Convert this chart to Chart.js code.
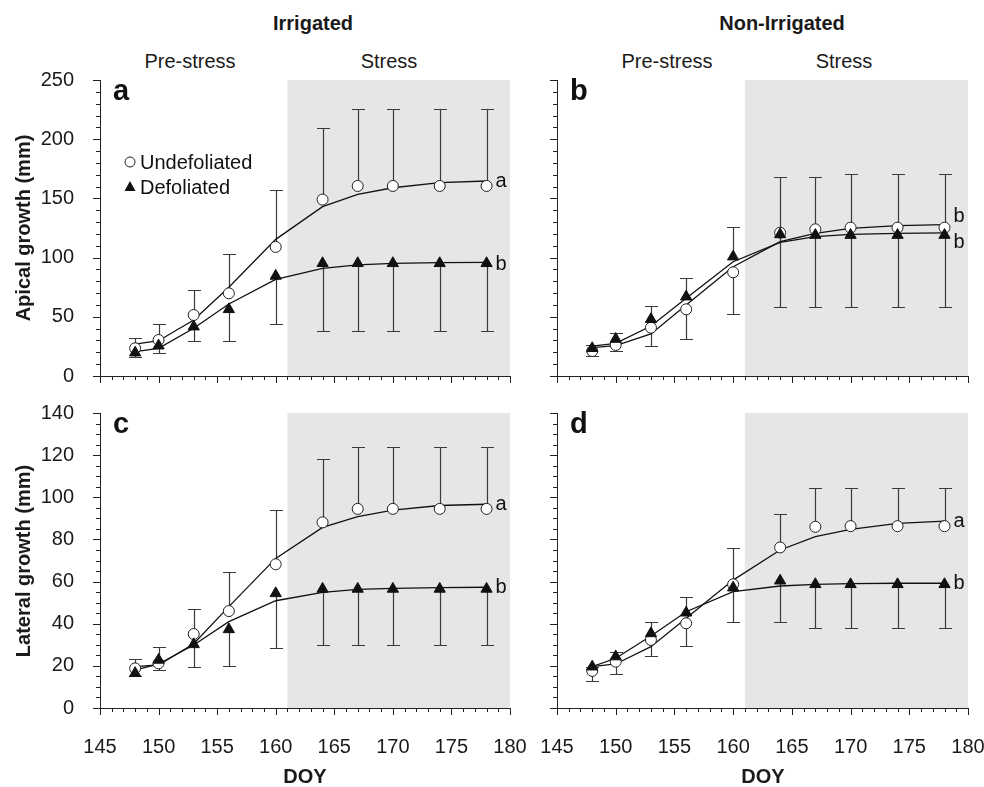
<!DOCTYPE html>
<html>
<head>
<meta charset="utf-8">
<script src="https://cdn.jsdelivr.net/npm/chart.js@4.4.1/dist/chart.umd.min.js"></script>
<style>
    body {
        margin: 0;
        width: 984px;
        height: 787px;
        overflow: hidden;
        background: #fff;
        position: relative;
        font-family: 'Liberation Sans', Arial, sans-serif;
        color: #1a1a1a;
    }
    canvas { position: absolute; }
    .lbl {
        position: absolute;
        font-size: 20px;
        line-height: 1;
        white-space: nowrap;
        transform: translate(-50%, -50%);
    }
    .bold { font-weight: bold; }
    .ytitle { transform: translate(-50%, -50%) rotate(-90deg); }
</style>
</head>
<body>
<div class="lbl bold" style="left:313px; top:23px">Irrigated</div>
<div class="lbl bold" style="left:782px; top:23px">Non-Irrigated</div>
<div class="lbl" style="left:190px; top:61px">Pre-stress</div>
<div class="lbl" style="left:389px; top:61px">Stress</div>
<div class="lbl" style="left:667px; top:61px">Pre-stress</div>
<div class="lbl" style="left:844px; top:61px">Stress</div>

<canvas id="chartA" width="530" height="330" style="left:0; top:70px"></canvas>
<canvas id="chartB" width="527" height="330" style="left:457px; top:70px"></canvas>
<canvas id="chartC" width="530" height="387" style="left:0; top:400px"></canvas>
<canvas id="chartD" width="527" height="387" style="left:457px; top:400px"></canvas>

<div class="lbl bold ytitle" style="left:23px; top:228px">Apical growth (mm)</div>
<div class="lbl bold ytitle" style="left:23px; top:561px">Lateral growth (mm)</div>
<div class="lbl bold" style="left:305px; top:776px">DOY</div>
<div class="lbl bold" style="left:763px; top:776px">DOY</div>

<script>
// Sampling days (DOY)
const days = [148, 150, 153, 156, 160, 164, 167, 170, 174, 178];
const stressStart = 161;

// Panel a - apical growth, irrigated
const apIrrUndef    = [23.4, 30.4, 51.5, 69.8, 109, 149, 160.5, 160.5, 160.5, 160.5];
const apIrrUndefErr = [31.8, 43.6, 72.6, 103, 156.8, 209.5, 225.2, 225.2, 225.2, 225.2];
const apIrrDef      = [19.7, 25.6, 41.7, 56.3, 84.5, 95.2, 95.2, 95.2, 95.2, 95.2];
const apIrrDefErr   = [16, 19.7, 29.6, 29.8, 43.9, 38.3, 38.3, 38.3, 38.3, 38.3];
const apIrrUndefFit = [27, 29.8, 47.3, 74.9, 115.4, 143, 153.4, 159, 163.3, 164.7];
const apIrrDefFit   = [20.6, 23.4, 40.3, 60.8, 81.6, 90.9, 93.8, 95.2, 95.7, 96];

// Panel b - apical growth, non-irrigated
const apNonUndef    = [21.1, 26.2, 40.8, 56.3, 87.6, 121, 123.9, 125.3, 125.3, 125.3];
const apNonUndefErr = [16.9, 21.1, 25.6, 31.2, 52.1, 168.4, 168.4, 170.6, 170.6, 170.6];
const apNonDef      = [23.4, 31.2, 47.9, 67, 100.8, 119.6, 119, 119, 119, 119];
const apNonDefErr   = [26, 36, 59.1, 82.5, 126.1, 58.6, 58.6, 58.6, 58.6, 58.6];
const apNonUndefFit = [23.9, 25.6, 35.5, 60, 92.3, 113.5, 120.5, 124.7, 127, 127.8];
const apNonDefFit   = [25.3, 27.6, 42.2, 65.6, 96.5, 112.9, 117.7, 119.6, 120.5, 120.8];

// Panel c - lateral growth, irrigated
const latIrrUndef    = [18.8, 21.2, 35.1, 46, 68.2, 88.1, 94.5, 94.5, 94.5, 94.5];
const latIrrUndefErr = [23.3, 18.0, 46.8, 64.7, 93.9, 118.4, 123.9, 123.9, 123.9, 123.9];
const latIrrDef      = [16.5, 22.8, 30.2, 37.3, 54.4, 56.5, 56.5, 56.5, 56.5, 56.5];
const latIrrDefErr   = [15, 28.8, 19.6, 19.9, 28.3, 29.7, 29.7, 29.7, 29.7, 29.7];
const latIrrUndefFit = [19.6, 20.4, 30.5, 48.1, 71, 85.7, 90.8, 93.9, 96.1, 96.7];
const latIrrDefFit   = [18.0, 20.9, 29.9, 41, 50.9, 54.9, 56.3, 56.8, 57.1, 57.3];

// Panel d - lateral growth, non-irrigated
const latNonUndef    = [17.6, 22, 32.3, 40.2, 58.7, 76.2, 86, 86.3, 86.3, 86.3];
const latNonUndefErr = [13.0, 16.1, 24.8, 29.6, 75.8, 92.3, 104.5, 104.5, 104.5, 104.5];
const latNonDef      = [19.6, 24.4, 35.4, 45.2, 57.1, 60.4, 58.7, 58.7, 58.7, 58.7];
const latNonDefErr   = [19.6, 26.7, 40.7, 52.8, 41, 41, 38.2, 38.2, 38.2, 38.2];
const latNonUndefFit = [19.6, 20.9, 29.1, 42.6, 60.7, 75, 81.3, 84.8, 87.6, 88.7];
const latNonDefFit   = [19.6, 23.6, 34.2, 45.7, 55.2, 57.9, 58.7, 59, 59.2, 59.2];

Chart.defaults.font.family = "'Liberation Sans', Arial, sans-serif";
Chart.defaults.font.size = 20;
Chart.defaults.color = '#1a1a1a';

const AXIS = '#222';
const ERR = '#3a3a3a';

function pts(vals) {
    return days.map((d, i) => ({ x: d, y: vals[i] }));
}

// Draws shading, error bars, minor/major ticks, panel letter, legend and letters at curve ends
function extras(cfg) {
    return {
        id: 'extras' + cfg.letter,
        beforeDraw(chart) {
            const { ctx, chartArea: a, scales: { x } } = chart;
            ctx.save();
            ctx.fillStyle = '#e6e6e6';
            const x0 = x.getPixelForValue(stressStart);
            ctx.fillRect(x0, a.top, a.right - x0, a.bottom - a.top);
            ctx.restore();
        },
        beforeDatasetsDraw(chart) {
            const { ctx, scales: { x, y } } = chart;
            ctx.save();
            ctx.strokeStyle = ERR;
            ctx.lineWidth = 1.2;
            cfg.errors.forEach(s => {
                days.forEach((d, i) => {
                    const px = Math.round(x.getPixelForValue(d)) + 0.5;
                    const p0 = y.getPixelForValue(s.vals[i]);
                    const p1 = Math.round(y.getPixelForValue(s.ends[i])) + 0.5;
                    ctx.beginPath();
                    ctx.moveTo(px, p0);
                    ctx.lineTo(px, p1);
                    ctx.moveTo(px - 6.5, p1);
                    ctx.lineTo(px + 6.5, p1);
                    ctx.stroke();
                });
            });
            ctx.restore();
        },
        afterDraw(chart) {
            const { ctx, chartArea: a, scales: { x, y } } = chart;
            ctx.save();
            ctx.strokeStyle = AXIS;
            ctx.lineWidth = 1;
            ctx.beginPath();
            x.ticks.forEach(t => {
                const px = Math.round(x.getPixelForValue(t.value)) + 0.5;
                const len = t.value % 5 === 0 ? 7 : 4;
                ctx.moveTo(px, a.bottom);
                ctx.lineTo(px, a.bottom + len);
            });
            y.ticks.forEach(t => {
                const py = Math.round(y.getPixelForValue(t.value)) + 0.5;
                const len = t.value % cfg.yLabelStep === 0 ? 7 : 4;
                ctx.moveTo(a.left - len, py);
                ctx.lineTo(a.left, py);
            });
            ctx.stroke();

            // panel letter
            ctx.fillStyle = '#111';
            ctx.font = "bold 29px 'Liberation Sans', Arial, sans-serif";
            ctx.textBaseline = 'alphabetic';
            ctx.textAlign = 'left';
            ctx.fillText(cfg.letter, a.left + 13, a.top + 20);

            // significance letters at the end of the fitted curves
            ctx.font = "20px 'Liberation Sans', Arial, sans-serif";
            ctx.textBaseline = 'middle';
            cfg.sig.forEach(s => {
                const last = days.length - 1;
                const px = x.getPixelForValue(days[last]) + 9;
                const py = y.getPixelForValue(s.fit[last]) + s.dy;
                ctx.fillText(s.text, px, py);
            });

            if (cfg.legend) {
                const lx = a.left + 30;
                const ly1 = a.top + 82;
                const ly2 = a.top + 107;
                ctx.lineWidth = 1;
                ctx.strokeStyle = '#222';
                ctx.fillStyle = '#fff';
                ctx.beginPath();
                ctx.arc(lx, ly1, 5, 0, Math.PI * 2);
                ctx.fill();
                ctx.stroke();
                ctx.fillStyle = '#111';
                ctx.beginPath();
                ctx.moveTo(lx, ly2 - 6);
                ctx.lineTo(lx + 5.5, ly2 + 4);
                ctx.lineTo(lx - 5.5, ly2 + 4);
                ctx.closePath();
                ctx.fill();
                ctx.fillText('Undefoliated', lx + 10, ly1 + 1);
                ctx.fillText('Defoliated', lx + 10, ly2 + 1);
            }
            ctx.restore();
        }
    };
}

function makePanel(id, cfg) {
    const ctx = document.getElementById(id).getContext('2d');
    return new Chart(ctx, {
        type: 'scatter',
        data: {
            datasets: [
                {
                    label: 'Defoliated',
                    data: pts(cfg.def),
                    pointStyle: 'triangle',
                    pointRadius: 6.5,
                    backgroundColor: '#111',
                    borderColor: '#111',
                    borderWidth: 1
                },
                {
                    label: 'Undefoliated',
                    data: pts(cfg.undef),
                    pointStyle: 'circle',
                    pointRadius: 5.5,
                    backgroundColor: '#fff',
                    borderColor: '#222',
                    borderWidth: 1
                },
                {
                    label: 'Undefoliated fit',
                    data: pts(cfg.undefFit),
                    showLine: true,
                    pointRadius: 0,
                    borderColor: '#111',
                    borderWidth: 1.3,
                    tension: 0
                },
                {
                    label: 'Defoliated fit',
                    data: pts(cfg.defFit),
                    showLine: true,
                    pointRadius: 0,
                    borderColor: '#111',
                    borderWidth: 1.3,
                    tension: 0
                }
            ]
        },
        options: {
            responsive: false,
            animation: false,
            devicePixelRatio: 1,
            layout: { padding: { top: cfg.padTop, right: cfg.padRight, left: 0, bottom: 0 } },
            plugins: {
                legend: { display: false },
                tooltip: { enabled: false }
            },
            scales: {
                x: {
                    type: 'linear',
                    min: 145,
                    max: 180,
                    grid: { display: false },
                    border: { display: true, color: AXIS, width: 1 },
                    ticks: {
                        stepSize: 1,
                        autoSkip: false,
                        maxRotation: 0,
                        padding: 19,
                        color: '#1a1a1a',
                        callback: v => (cfg.xLabels && v % 5 === 0) ? v : ''
                    },
                    afterFit(s) {
                        s.height = cfg.xHeight;
                        s.paddingLeft = 0;
                        s.paddingRight = 0;
                    }
                },
                y: {
                    min: 0,
                    max: cfg.yMax,
                    grid: { display: false },
                    border: { display: true, color: AXIS, width: 1 },
                    ticks: {
                        stepSize: cfg.yMinorStep,
                        maxTicksLimit: 1000,
                        autoSkip: false,
                        padding: 18,
                        color: '#1a1a1a',
                        callback: v => (cfg.yLabels && v % cfg.yLabelStep === 0) ? v : ''
                    },
                    afterFit(s) {
                        s.width = 100;
                        s.paddingTop = 0;
                        s.paddingBottom = 0;
                    }
                }
            }
        },
        plugins: [extras(cfg)]
    });
}

makePanel('chartA', {
    letter: 'a', legend: true,
    undef: apIrrUndef, def: apIrrDef, undefFit: apIrrUndefFit, defFit: apIrrDefFit,
    errors: [{ vals: apIrrUndef, ends: apIrrUndefErr }, { vals: apIrrDef, ends: apIrrDefErr }],
    sig: [{ text: 'a', fit: apIrrUndefFit, dy: 0 }, { text: 'b', fit: apIrrDefFit, dy: 2 }],
    yMax: 250, yMinorStep: 10, yLabelStep: 50, yLabels: true, xLabels: false,
    padTop: 10, padRight: 20, xHeight: 24
});

makePanel('chartB', {
    letter: 'b', legend: false,
    undef: apNonUndef, def: apNonDef, undefFit: apNonUndefFit, defFit: apNonDefFit,
    errors: [{ vals: apNonUndef, ends: apNonUndefErr }, { vals: apNonDef, ends: apNonDefErr }],
    sig: [{ text: 'b', fit: apNonUndefFit, dy: -8 }, { text: 'b', fit: apNonDefFit, dy: 10 }],
    yMax: 250, yMinorStep: 10, yLabelStep: 50, yLabels: false, xLabels: false,
    padTop: 10, padRight: 16, xHeight: 24
});

makePanel('chartC', {
    letter: 'c', legend: false,
    undef: latIrrUndef, def: latIrrDef, undefFit: latIrrUndefFit, defFit: latIrrDefFit,
    errors: [{ vals: latIrrUndef, ends: latIrrUndefErr }, { vals: latIrrDef, ends: latIrrDefErr }],
    sig: [{ text: 'a', fit: latIrrUndefFit, dy: 0 }, { text: 'b', fit: latIrrDefFit, dy: 0 }],
    yMax: 140, yMinorStep: 5, yLabelStep: 20, yLabels: true, xLabels: true,
    padTop: 13, padRight: 20, xHeight: 79
});

makePanel('chartD', {
    letter: 'd', legend: false,
    undef: latNonUndef, def: latNonDef, undefFit: latNonUndefFit, defFit: latNonDefFit,
    errors: [{ vals: latNonUndef, ends: latNonUndefErr }, { vals: latNonDef, ends: latNonDefErr }],
    sig: [{ text: 'a', fit: latNonUndefFit, dy: 0 }, { text: 'b', fit: latNonDefFit, dy: 0 }],
    yMax: 140, yMinorStep: 5, yLabelStep: 20, yLabels: false, xLabels: true,
    padTop: 13, padRight: 16, xHeight: 79
});
</script>
</body>
</html>
